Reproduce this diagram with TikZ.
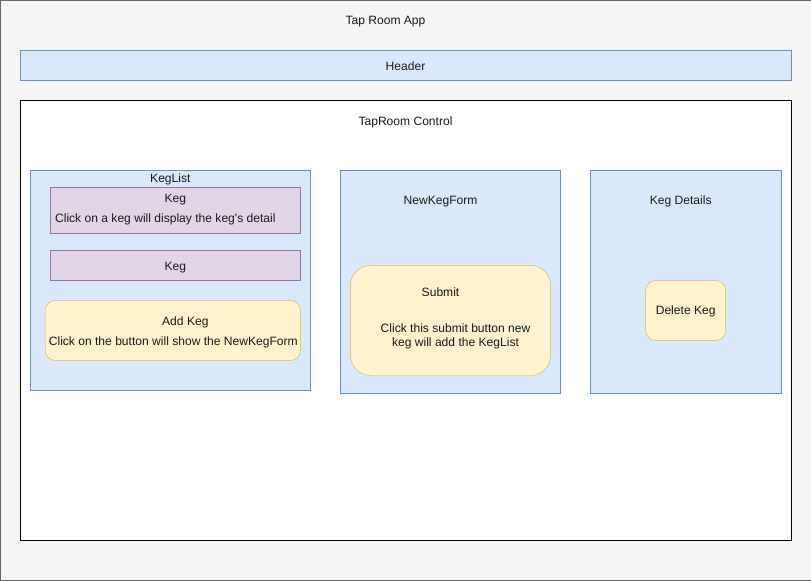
\documentclass[tikz,border=0pt]{standalone}
\usepackage{fontspec}
\setmainfont{Liberation Sans}
\usepackage{tikz}
\definecolor{bluefill}{HTML}{DAE8FC}
\definecolor{bluedraw}{HTML}{6C8EBF}
\definecolor{purplefill}{HTML}{E1D5E7}
\definecolor{purpledraw}{HTML}{9673A6}
\definecolor{yellowfill}{HTML}{FFF2CC}
\definecolor{yellowdraw}{HTML}{D6B656}
\definecolor{grayfill}{HTML}{F5F5F5}
\definecolor{graydraw}{HTML}{666666}
\definecolor{textcol}{HTML}{1A1A1A}
\tikzset{
  bluebox/.style={fill=bluefill, draw=bluedraw},
  kegbox/.style={fill=purplefill, draw=purpledraw},
  buttonbox/.style={fill=yellowfill, draw=yellowdraw, rounded corners=#1},
  buttonbox/.default=0.3cm,
  lbl/.style={text=textcol, font=\fontsize{10.3}{12.4}\selectfont, inner sep=0pt}
}

\begin{document}
\begin{tikzpicture}[x=0.03cm, y=-0.03cm]
			%%%%% START %%%%%
			
			\draw[fill=grayfill, draw=graydraw] (0, 0) rectangle (810, 580);
			\node[lbl] (app) at (385, 21) {Tap Room App};
			
			\draw[bluebox] (20, 50) rectangle (790, 80);
			\node[lbl] (header) at (405, 66) {Header};
			
			\draw[fill=white, draw=black] (20, 100) rectangle (790, 540);
			\node[lbl] (control) at (405, 122) {TapRoom Control};
			
			% keg list
			\draw[bluebox] (30, 170) rectangle (310, 390);
			\node[lbl] (keglist) at (170, 179) {KegList};
			
			\draw[kegbox] (50, 187) rectangle (300, 233);
			\node[lbl] (keg1) at (175, 199) {Keg};
			\node[lbl] (keg1note) at (165, 219) {Click on a keg will display the keg\textquotesingle s detail};
			
			\draw[kegbox] (50, 250) rectangle (300, 280);
			\node[lbl] (keg2) at (175, 267) {Keg};
			
			\draw[buttonbox=0.3cm] (45, 300) rectangle (300, 360);
			\node[lbl] (addkeg) at (185, 322) {Add Keg};
			\node[lbl] (addkegnote) at (173, 342) {Click on the button will show the NewKegForm};
			
			% new keg form
			\draw[bluebox] (340, 170) rectangle (560, 393);
			\node[lbl] (newkegform) at (440, 201) {NewKegForm};
			
			\draw[buttonbox=0.6cm] (350, 265) rectangle (550, 375);
			\node[lbl] (submit) at (440, 292) {Submit};
			\node[lbl, align=center] (submitnote) at (455, 336) {Click this submit button new\\keg will add the KegList};
			
			% keg details
			\draw[bluebox] (590, 170) rectangle (780, 393);
			\node[lbl] (kegdetails) at (680, 201) {Keg Details};
			
			\draw[buttonbox=0.3cm] (645, 280) rectangle (725, 340);
			\node[lbl] (deletekeg) at (685, 311) {Delete Keg};
			
			%%%%% END %%%%%
\end{tikzpicture}
\end{document}
